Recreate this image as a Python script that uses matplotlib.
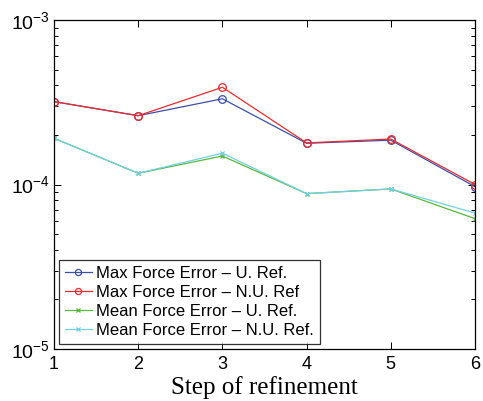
import matplotlib
matplotlib.use("Agg")
import matplotlib.pyplot as plt
from matplotlib.ticker import LogLocator, NullFormatter

steps = [1, 2, 3, 4, 5, 6]
max_err_u = [3.19e-4, 2.62e-4, 3.32e-4, 1.78e-4, 1.86e-4, 9.7e-5]
max_err_nu = [3.19e-4, 2.62e-4, 3.90e-4, 1.79e-4, 1.89e-4, 1.00e-4]
mean_err_u = [1.91e-4, 1.17e-4, 1.49e-4, 8.8e-5, 9.4e-5, 6.2e-5]
mean_err_nu = [1.91e-4, 1.17e-4, 1.55e-4, 8.8e-5, 9.4e-5, 6.7e-5]
labels = ["Max Force Error \u2013 U. Ref.", "Max Force Error \u2013 N.U. Ref",
          "Mean Force Error \u2013 U. Ref.", "Mean Force Error \u2013 N.U. Ref."]

plt.rcParams["font.family"] = ["Liberation Sans", "DejaVu Sans"]
plt.rcParams["mathtext.fontset"] = "custom"
plt.rcParams["mathtext.rm"] = "Liberation Sans"

fig = plt.figure(figsize=(4.83, 4.01), dpi=100)
ax = fig.add_axes([54 / 483, 1 - 349 / 401, (475 - 54) / 483, (349 - 20) / 401])

ax.plot(steps, max_err_u, color="#3b4fa6", lw=0.9, marker="o", ms=5.5, mfc="none", mew=0.9, label=labels[0])
ax.plot(steps, max_err_nu, color="#ee2a2e", lw=0.9, marker="o", ms=5.5, mfc="none", mew=0.9, label=labels[1])
ax.plot(steps, mean_err_u, color="#58b83c", lw=0.9, marker="x", ms=3.5, mew=0.9, label=labels[2])
ax.plot(steps, mean_err_nu, color="#72d0e4", lw=0.9, marker="x", ms=3.5, mew=0.9, label=labels[3])

ax.set_yscale("log")
ax.set_xlim(1, 6)
ax.set_ylim(1e-5, 1e-3)
ax.set_xticks(steps)
ax.yaxis.set_major_locator(LogLocator(base=10, numticks=10))
ax.yaxis.set_minor_locator(LogLocator(base=10, subs=range(2, 10), numticks=10))
ax.yaxis.set_minor_formatter(NullFormatter())
ax.tick_params(which="both", direction="in", top=True, right=True, width=0.7)
ax.tick_params(axis="x", labelsize=13, pad=5)
ax.tick_params(axis="y", labelsize=14, pad=3)
ax.tick_params(which="major", length=5)
ax.tick_params(which="minor", length=3)
for s in ax.spines.values():
    s.set_linewidth(0.9)

ax.set_xlabel("Step of refinement", family=["Liberation Serif"], fontsize=18, labelpad=2)

leg = ax.legend(loc="lower left", fontsize=12, frameon=True, fancybox=False,
                edgecolor="black", borderpad=0.35, handlelength=1.6, handletextpad=0.3,
                labelspacing=0.25, borderaxespad=0.3, markerscale=0.8)
leg.get_frame().set_linewidth(0.9)

fig.savefig("out.png", dpi=100)
